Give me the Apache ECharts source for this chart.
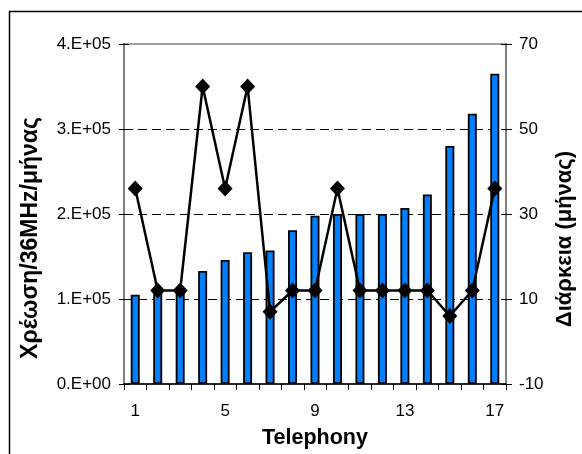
<!DOCTYPE html>
<html>
<head>
<meta charset="utf-8">
<script src="https://cdn.jsdelivr.net/npm/echarts@6/dist/echarts.min.js"></script>
<style>
  html, body { margin: 0; padding: 0; background: #fff; }
  #chart { width: 582px; height: 454px; }
</style>
</head>
<body>
<div id="chart"></div>
<script>
// Telephony systems 1..17
const categories = ['1','2','3','4','5','6','7','8','9','10','11','12','13','14','15','16','17'];
// Charge per 36 MHz per month
const charges = [105000, 110000, 111000, 133000, 146000, 155000, 157000, 181000, 198000,
                 200000, 200000, 200000, 207000, 223000, 280000, 318000, 365000];
// Duration in months
const durations = [36, 12, 12, 60, 36, 60, 7, 12, 12, 36, 12, 12, 12, 12, 6, 12, 36];
// Axis tick labels
const leftTickLabels = ['0.E+00', '1.E+05', '2.E+05', '3.E+05', '4.E+05'];
const rightTickLabels = ['-10', '10', '30', '50', '70'];

const FONT = '"Liberation Sans", Arial, sans-serif';
const chart = echarts.init(document.getElementById('chart'), null, { renderer: 'canvas' });

const leftAxisBase = {
  type: 'value', position: 'left', min: 0, max: 400000, interval: 100000
};
const rightAxisBase = {
  type: 'value', position: 'right', min: -10, max: 70, interval: 20
};

chart.setOption({
  backgroundColor: '#ffffff',
  animation: false,
  grid: {
    left: 124, right: 76, top: 44, bottom: 70,
    show: true, borderColor: '#a0a0a0', borderWidth: 2, backgroundColor: 'transparent'
  },
  xAxis: {
    type: 'category',
    data: categories,
    boundaryGap: true,
    axisLine: { lineStyle: { color: '#000', width: 1.5 } },
    axisTick: { show: true, interval: 0, length: 6, lineStyle: { color: '#000', width: 1 } },
    axisLabel: {
      interval: 3, margin: 19, color: '#000',
      fontFamily: FONT, fontSize: 17
    },
    splitLine: { show: false }
  },
  yAxis: [
    Object.assign({}, leftAxisBase, {
      axisLine: { show: true, lineStyle: { color: '#808080', width: 2 } },
      axisTick: { show: true, length: 5, lineStyle: { color: '#000', width: 1 } },
      axisLabel: {
        margin: 13, color: '#000', fontFamily: FONT, fontSize: 17,
        formatter: v => leftTickLabels[Math.round(v / 100000)]
      },
      splitLine: {
        show: true, showMinLine: false, showMaxLine: false,
        lineStyle: { color: '#000', width: 1, type: [9, 5] }
      }
    }),
    Object.assign({}, rightAxisBase, {
      axisLine: { show: true, lineStyle: { color: '#808080', width: 2 } },
      axisTick: { show: true, length: 6, lineStyle: { color: '#000', width: 1 } },
      axisLabel: {
        margin: 13, color: '#000', fontFamily: FONT, fontSize: 17,
        formatter: v => rightTickLabels[Math.round((v + 10) / 20)]
      },
      splitLine: { show: false }
    }),
    // inner halves of the crossing tick marks
    Object.assign({}, leftAxisBase, {
      axisLine: { show: false },
      axisTick: { show: true, inside: true, length: 5, lineStyle: { color: '#000', width: 1 } },
      axisLabel: { show: false },
      splitLine: { show: false }
    }),
    Object.assign({}, rightAxisBase, {
      axisLine: { show: false },
      axisTick: { show: true, inside: true, length: 5, lineStyle: { color: '#000', width: 1 } },
      axisLabel: { show: false },
      splitLine: { show: false }
    })
  ],
  series: [
    {
      name: 'Χρέωση',
      type: 'bar',
      yAxisIndex: 0,
      data: charges,
      barWidth: 9,
      itemStyle: { color: '#0080ff', borderColor: '#000', borderWidth: 1.8 },
      z: 2
    },
    {
      name: 'Διάρκεια',
      type: 'line',
      yAxisIndex: 1,
      data: durations,
      symbol: 'diamond',
      symbolSize: [15, 16],
      showAllSymbol: true,
      lineStyle: { color: '#000', width: 2.5 },
      itemStyle: { color: '#000' },
      z: 5
    }
  ],
  graphic: [
    {
      type: 'rect', left: 7, top: 9, z: 100, silent: true,
      shape: { x: 0, y: 0, width: 600, height: 500 },
      style: { fill: 'none', stroke: '#000', lineWidth: 1.5 }
    },
    {
      type: 'text', x: 31, y: 238, rotation: Math.PI / 2, z: 100,
      style: {
        text: 'Χρέωση/36MHz/μήνας', font: 'bold 23px ' + FONT, fill: '#000',
        align: 'center', verticalAlign: 'middle',
        textAlign: 'center', textVerticalAlign: 'middle'
      }
    },
    {
      type: 'text', x: 565, y: 239, rotation: Math.PI / 2, z: 100,
      style: {
        text: 'Διάρκεια (μήνας)', font: 'bold 22px ' + FONT, fill: '#000',
        align: 'center', verticalAlign: 'middle',
        textAlign: 'center', textVerticalAlign: 'middle'
      }
    },
    {
      type: 'text', x: 315, y: 438, z: 100,
      style: {
        text: 'Telephony', font: 'bold 21.5px ' + FONT, fill: '#000',
        align: 'center', verticalAlign: 'middle',
        textAlign: 'center', textVerticalAlign: 'middle'
      }
    }
  ]
});
</script>
</body>
</html>
